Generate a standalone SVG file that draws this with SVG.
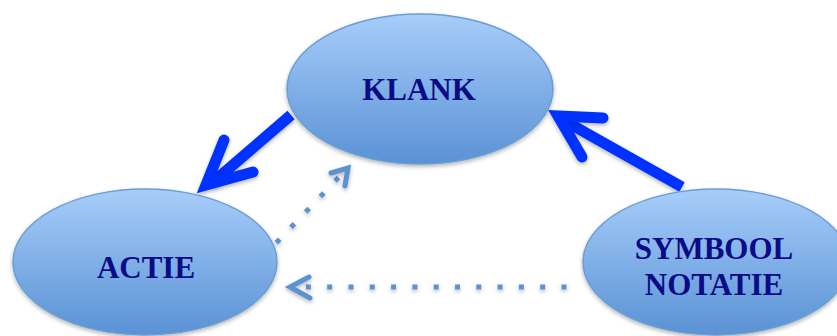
<svg xmlns="http://www.w3.org/2000/svg" width="837" height="336" viewBox="0 0 837 336">
<defs>
<linearGradient id="g" x1="0" y1="0" x2="0" y2="1">
<stop offset="0" stop-color="#a7cdfa"/>
<stop offset="1" stop-color="#5a92d5"/>
</linearGradient>
<filter id="sh" filterUnits="userSpaceOnUse" x="0" y="0" width="837" height="336">
<feGaussianBlur in="SourceAlpha" stdDeviation="2"/>
<feOffset dx="0" dy="2" result="b"/>
<feComponentTransfer><feFuncA type="linear" slope="0.3"/></feComponentTransfer>
<feMerge><feMergeNode/><feMergeNode in="SourceGraphic"/></feMerge>
</filter>
</defs>
<style>
.node{fill:url(#g);stroke:#6b9fd3;stroke-width:1.5;filter:url(#sh)}
.lbl{font-family:"Liberation Serif","Times New Roman",serif;font-weight:bold;font-size:31px;fill:#0b0b86;text-anchor:middle}
.thick{fill:none;stroke:#0033ff;stroke-width:11;stroke-linecap:butt;filter:url(#sh)}
.thead{fill:none;stroke:#0033ff;stroke-width:11;stroke-linecap:round;stroke-linejoin:miter;stroke-miterlimit:10;filter:url(#sh)}
.dot{fill:none;stroke:#5b92d2;stroke-width:5;stroke-dasharray:5 16.3;filter:url(#sh)}
.head{fill:none;stroke:#5b92d2;stroke-width:5;stroke-linecap:round;stroke-linejoin:miter;filter:url(#sh)}
</style>
<g id="connectors">
<path class="thick" d="M291,115 L212,183"/>
<path class="thead" d="M224,140 L206,185 L253,172"/>
<path class="thick" d="M682,187 L563,120"/>
<path class="thead" d="M603,118 L558,116 L582,157"/>
<path class="dot" d="M276.3,242.8 L340,176"/>
<path class="head" d="M331,173 L348,168 L345,186"/>
<path class="dot" d="M566.5,287 L304,287"/>
<path class="head" d="M309,277 L290,287 L310,298"/>
</g>
<g id="klank">
<ellipse class="node" cx="420" cy="89" rx="133" ry="75"/>
<text class="lbl" x="419" y="100">KLANK</text>
</g>
<g id="actie">
<ellipse class="node" cx="145" cy="262" rx="132" ry="73"/>
<text class="lbl" x="146" y="278">ACTIE</text>
</g>
<g id="symbool">
<ellipse class="node" cx="716" cy="262" rx="133" ry="73"/>
<text class="lbl" x="714" y="259">SYMBOOL</text>
<text class="lbl" x="714" y="295">NOTATIE</text>
</g>
</svg>
